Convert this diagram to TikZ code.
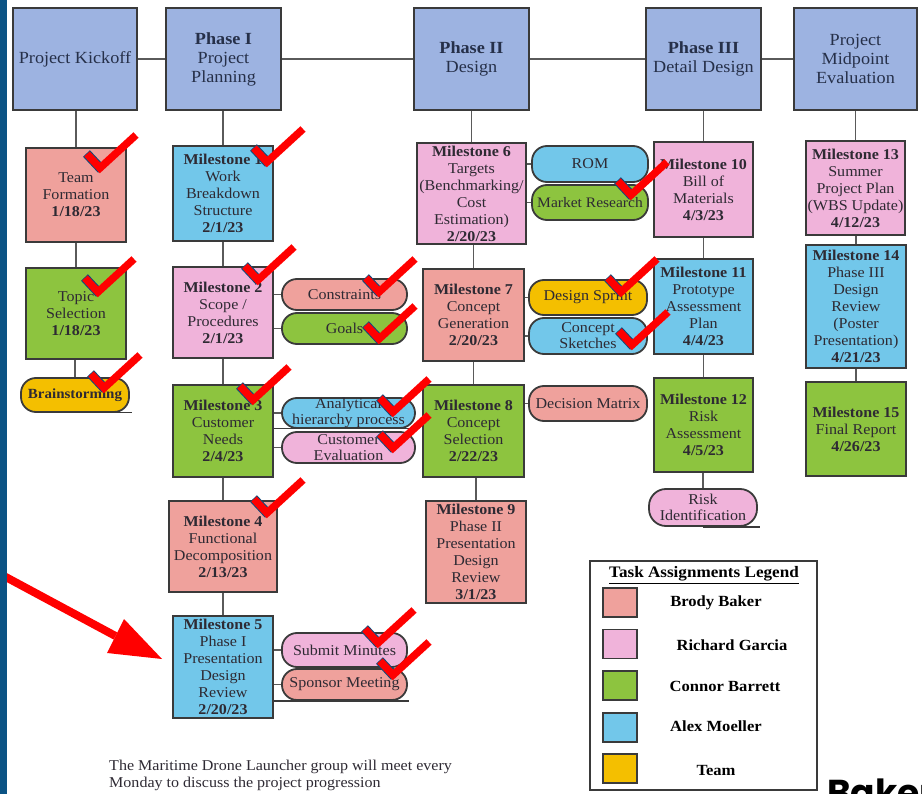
\documentclass[tikz,border=0pt]{standalone}
\usepackage{fontspec}
\setmainfont{Liberation Serif}[FakeStretch=1.07]
\newfontfamily\bakerfont{Poppins}
\usetikzlibrary{calc}
\definecolor{phaseblue}{HTML}{9DB3E1}
\definecolor{salmonc}{HTML}{EFA19C}
\definecolor{pinkc}{HTML}{F0B3DA}
\definecolor{greenc}{HTML}{8DC43F}
\definecolor{bluec}{HTML}{72C7EA}
\definecolor{yellowc}{HTML}{F4BF00}
\definecolor{edgec}{HTML}{3A3A3A}
\definecolor{txtc}{HTML}{2E2A33}
\definecolor{phtxt}{HTML}{263049}
\definecolor{linkc}{HTML}{5A5A5A}
\definecolor{tickred}{HTML}{FF0000}
\definecolor{navyc}{HTML}{0E4C7C}
\definecolor{barblue}{HTML}{0B5384}
\tikzset{
  boxst/.style={draw=edgec, line width=1.6pt, inner sep=0pt, align=center, text=txtc,
    font=\fontsize{15}{17}\selectfont},
  phasest/.style={boxst, fill=phaseblue, minimum height=102pt, text=phtxt,
    font=\fontsize{17}{19}\selectfont},
  pillst/.style={boxst, rounded corners=15pt, line width=1.8pt},
  linkst/.style={draw=linkc, line width=1.2pt},
  shadowst/.style={draw=edgec, line width=1.2pt},
  swatchst/.style={draw=edgec, line width=1.4pt, minimum width=34pt, minimum height=29pt, inner sep=0pt},
  legtext/.style={font=\bfseries\fontsize{15.5}{17}\selectfont, text=black, inner sep=0pt},
  pics/tick/.style={code={
    \draw[navyc, line width=9.5pt, line cap=butt] (-13.5,-14.5) -- (1.5,1.5);
    \draw[tickred, line width=7.5pt, line join=miter] (-13,-14) -- (0,0) -- (36,-33);
  }}
}
\begin{document}
\begin{tikzpicture}[x=1pt,y=-1pt]
\fill[white] (0,0) rectangle (922,794);
\useasboundingbox (0,0) rectangle (922,794);

% top row
\node[phasest, minimum width=124pt] (kick) at (75,59) {Project Kickoff};
\node[phasest, minimum width=115pt] (p1) at (223.5,59) {\textbf{Phase I}\\Project\\Planning};
\node[phasest, minimum width=115pt] (p2) at (471.5,59) {\textbf{Phase II}\\Design};
\node[phasest, minimum width=115pt] (p3) at (703.5,59) {\textbf{Phase III}\\Detail Design};
\node[phasest, minimum width=123pt] (mid) at (855.5,59) {Project\\Midpoint\\Evaluation};

% column 0
\node[boxst, fill=salmonc, minimum width=100pt, minimum height=94pt] (team) at (76,195) {Team\\Formation\\\textbf{1/18/23}};
\node[boxst, fill=greenc, minimum width=100pt, minimum height=91pt] (topic) at (76,313.5) {Topic\\Selection\\\textbf{1/18/23}};
\node[pillst, fill=yellowc, minimum width=108pt, minimum height=34pt, font=\fontsize{14}{16}\selectfont] (brain) at (75,395) {\textbf{Brainstorming}};

% column 1
\node[boxst, fill=bluec, minimum width=100pt, minimum height=95pt] (m1) at (223,193.5) {\textbf{Milestone 1}\\Work\\Breakdown\\Structure\\\textbf{2/1/23}};
\node[boxst, fill=pinkc, minimum width=100pt, minimum height=91pt] (m2) at (223,312.5) {\textbf{Milestone 2}\\Scope /\\Procedures\\\textbf{2/1/23}};
\node[pillst, fill=salmonc, minimum width=125pt, minimum height=31pt] (cons) at (344.5,294.5) {Constraints};
\node[pillst, fill=greenc, minimum width=125pt, minimum height=31pt] (goals) at (344.5,328.5) {Goals};
\node[boxst, fill=greenc, minimum width=100pt, minimum height=92pt] (m3) at (223,431) {\textbf{Milestone 3}\\Customer\\Needs\\\textbf{2/4/23}};
\node[pillst, fill=bluec, minimum width=133pt, minimum height=30pt, font=\fontsize{15}{15.5}\selectfont] (ana) at (348.5,413) {Analytical\\hierarchy process};
\node[pillst, fill=pinkc, minimum width=133pt, minimum height=31pt, font=\fontsize{15}{16}\selectfont] (cust) at (348.5,447.5) {Customer\\Evaluation};
\node[boxst, fill=salmonc, minimum width=108pt, minimum height=91pt] (m4) at (223,546.5) {\textbf{Milestone 4}\\Functional\\Decomposition\\\textbf{2/13/23}};
\node[boxst, fill=bluec, minimum width=100pt, minimum height=102pt] (m5) at (223,667) {\textbf{Milestone 5}\\Phase I\\Presentation\\Design\\Review\\\textbf{2/20/23}};
\node[pillst, fill=pinkc, minimum width=125pt, minimum height=34pt] (subm) at (344.5,650) {Submit Minutes};
\node[pillst, fill=salmonc, minimum width=125pt, minimum height=31pt] (spon) at (344.5,684.5) {Sponsor Meeting};

% column 2
\node[boxst, fill=pinkc, minimum width=109pt, minimum height=101pt] (m6) at (471.5,193.5) {\textbf{Milestone 6}\\Targets\\(Benchmarking/\\Cost\\Estimation)\\\textbf{2/20/23}};
\node[pillst, fill=bluec, minimum width=116pt, minimum height=36pt] (rom) at (590,164) {ROM};
\node[pillst, fill=greenc, minimum width=116pt, minimum height=35pt, font=\fontsize{14.5}{16}\selectfont] (mkt) at (590,202.5) {Market Research};
\node[boxst, fill=salmonc, minimum width=101pt, minimum height=92pt] (m7) at (473.5,315) {\textbf{Milestone 7}\\Concept\\Generation\\\textbf{2/20/23}};
\node[pillst, fill=yellowc, minimum width=118pt, minimum height=35pt] (sprint) at (588,297.5) {Design Sprint};
\node[pillst, fill=bluec, minimum width=118pt, minimum height=36pt, font=\fontsize{15}{16}\selectfont] (sketch) at (588,336) {Concept\\Sketches};
\node[boxst, fill=greenc, minimum width=101pt, minimum height=92pt] (m8) at (473.5,431) {\textbf{Milestone 8}\\Concept\\Selection\\\textbf{2/22/23}};
\node[pillst, fill=salmonc, minimum width=118pt, minimum height=35pt] (dec) at (588,403.5) {Decision Matrix};
\node[boxst, fill=salmonc, minimum width=100pt, minimum height=102pt] (m9) at (476,552) {\textbf{Milestone 9}\\Phase II\\Presentation\\Design\\Review\\\textbf{3/1/23}};

% column 3
\node[boxst, fill=pinkc, minimum width=99pt, minimum height=95pt] (m10) at (703.5,189.5) {\textbf{Milestone 10}\\Bill of\\Materials\\\textbf{4/3/23}};
\node[boxst, fill=bluec, minimum width=99pt, minimum height=95pt] (m11) at (703.5,306.5) {\textbf{Milestone 11}\\Prototype\\Assessment\\Plan\\\textbf{4/4/23}};
\node[boxst, fill=greenc, minimum width=99pt, minimum height=94pt] (m12) at (703.5,425) {\textbf{Milestone 12}\\Risk\\Assessment\\\textbf{4/5/23}};
\node[pillst, fill=pinkc, minimum width=108pt, minimum height=37pt, rounded corners=17pt, font=\fontsize{15}{16}\selectfont] (risk) at (703,507.5) {Risk\\Identification};

% column 4
\node[boxst, fill=pinkc, minimum width=99pt, minimum height=94pt] (m13) at (855.5,188) {\textbf{Milestone 13}\\Summer\\Project Plan\\(WBS Update)\\\textbf{4/12/23}};
\node[boxst, fill=bluec, minimum width=100pt, minimum height=123pt] (m14) at (856,306.5) {\textbf{Milestone 14}\\Phase III\\Design\\Review\\(Poster\\Presentation)\\\textbf{4/21/23}};
\node[boxst, fill=greenc, minimum width=100pt, minimum height=94pt] (m15) at (856,429) {\textbf{Milestone 15}\\Final Report\\\textbf{4/26/23}};

% connectors: top row
\draw[linkst] (kick.east) -- (p1.west);
\draw[linkst] (p1.east) -- (p2.west);
\draw[linkst] (p2.east) -- (p3.west);
\draw[linkst] (p3.east) -- (mid.west);
% vertical
\draw[linkst] (team.north) -- (team.north |- kick.south);
\draw[linkst] (topic.north) -- (topic.north |- team.south);
\draw[linkst] (brain.north) -- (brain.north |- topic.south);
\draw[linkst] (m1.north) -- (m1.north |- p1.south);
\draw[linkst] (m2.north) -- (m2.north |- m1.south);
\draw[linkst] (m3.north) -- (m3.north |- m2.south);
\draw[linkst] (m4.north) -- (m4.north |- m3.south);
\draw[linkst] (m5.north) -- (m5.north |- m4.south);
\draw[linkst] (m6.north) -- (m6.north |- p2.south);
\draw[linkst] (m7.north) -- (m7.north |- m6.south);
\draw[linkst] (m8.north) -- (m8.north |- m7.south);
\draw[linkst] (m9.north) -- (m9.north |- m8.south);
\draw[linkst] (m10.north) -- (m10.north |- p3.south);
\draw[linkst] (m11.north) -- (m11.north |- m10.south);
\draw[linkst] (m12.north) -- (m12.north |- m11.south);
\draw[linkst] (risk.north) -- (risk.north |- m12.south);
\draw[linkst] (m13.north) -- (m13.north |- mid.south);
\draw[linkst] (m14.north) -- (m14.north |- m13.south);
\draw[linkst] (m15.north) -- (m15.north |- m14.south);
% side links
\draw[linkst] (cons.west) -- (cons.west -| m2.east);
\draw[linkst] (goals.west) -- (goals.west -| m2.east);
\draw[linkst] (ana.west) -- (ana.west -| m3.east);
\draw[linkst] (cust.west) -- (cust.west -| m3.east);
\draw[linkst] (subm.west) -- (subm.west -| m5.east);
\draw[linkst] (spon.west) -- (spon.west -| m5.east);
\draw[linkst] (rom.west) -- (rom.west -| m6.east);
\draw[linkst] (mkt.west) -- (mkt.west -| m6.east);
\draw[linkst] (sprint.west) -- (sprint.west -| m7.east);
\draw[linkst] (sketch.west) -- (sketch.west -| m7.east);
\draw[linkst] (dec.west) -- (dec.west -| m8.east);
% shadow lines
\draw[shadowst] (brain.south) -- ([xshift=2pt]brain.south east);
\draw[shadowst] ([xshift=1pt]ana.south east) -- (ana.south east -| m3.east);
\draw[shadowst] ([xshift=1pt]spon.south east) -- (spon.south east -| m5.east);
\draw[shadowst] (risk.south) -- ([xshift=2pt]risk.south east);

% legend
\node[draw=edgec, line width=1.5pt, minimum width=227pt, minimum height=229pt, inner sep=0pt] (leg) at (703.5,675.5) {};
\node[legtext, font=\bfseries\fontsize{16}{17}\selectfont] (legt) at (704,575) {\underline{Task Assignments Legend}};
\node[swatchst, fill=salmonc] (s1) at (620,602.5) {};
\node[swatchst, fill=pinkc] (s2) at (620,644) {};
\node[swatchst, fill=greenc] (s3) at (620,685.5) {};
\node[swatchst, fill=bluec] (s4) at (620,727.5) {};
\node[swatchst, fill=yellowc] (s5) at (620,768.5) {};
\node[legtext] (l1) at (716,603) {Brody Baker};
\node[legtext] (l2) at (732,645) {Richard Garcia};
\node[legtext] (l3) at (725,686) {Connor Barrett};
\node[legtext] (l4) at (716,726) {Alex Moeller};
\node[legtext] (l5) at (716,770) {Team};

% footer
\node[anchor=north west, align=left, inner sep=0pt, text=txtc, font=\fontsize{15}{17}\selectfont] (foot) at (109,760) {The Maritime Drone Launcher group will meet every\\Monday to discuss the project progression};

% Baker (cut off at the page edge, as in the reference)
\node[anchor=base west, inner sep=0pt, text=black, font=\bakerfont\bfseries\fontsize{36}{38}\selectfont] (baker) at (827,805) {Baker};

% red arrow
\coordinate (arrS) at (2,575);
\coordinate (arrT) at (162,659);
\coordinate (arrB1) at (107,653);
\coordinate (arrB2) at (124,619);
\draw[tickred, line width=8pt] (arrS) -- ($(arrB1)!0.5!(arrB2)$);
\fill[tickred] (arrT) -- (arrB1) -- (arrB2) -- cycle;

% left bar
\fill[barblue] (0,0) rectangle (7,794);

% check marks
\pic at (100,168) {tick};
\pic at (267,162) {tick};
\pic at (98,292) {tick};
\pic at (258,280) {tick};
\pic at (379,292) {tick};
\pic at (379,339) {tick};
\pic at (104,388) {tick};
\pic at (253,400) {tick};
\pic at (393,412) {tick};
\pic at (393,448) {tick};
\pic at (267,513) {tick};
\pic at (378,643) {tick};
\pic at (393,675) {tick};
\pic at (631,195) {tick};
\pic at (621,292) {tick};
\pic at (632,345) {tick};
\end{tikzpicture}
\end{document}
